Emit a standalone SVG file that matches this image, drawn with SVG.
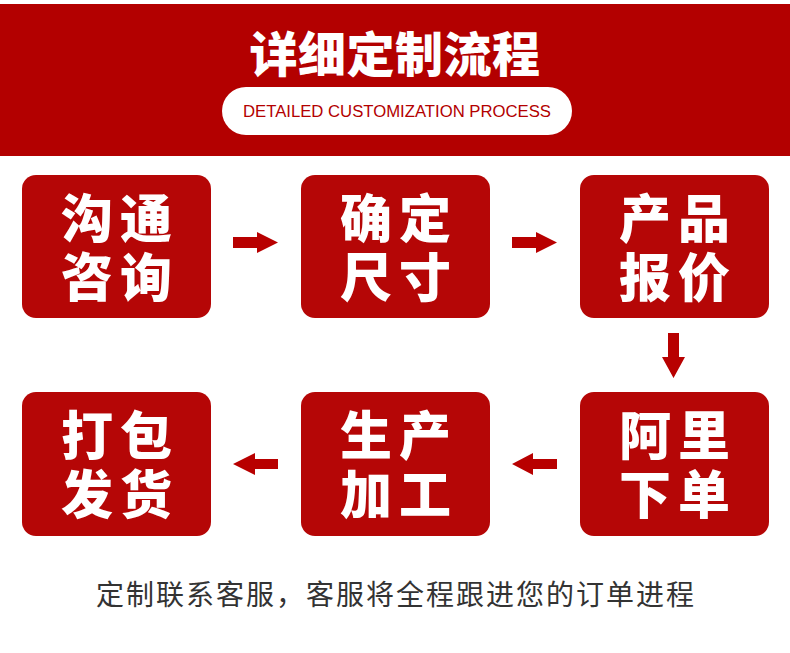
<svg xmlns="http://www.w3.org/2000/svg" width="790" height="653" viewBox="0 0 790 653">
<style>
.node{fill:#b50606}
.nt{font-family:"Noto Sans CJK SC","Noto Sans",sans-serif;font-weight:900;font-size:52px;fill:#fff;text-anchor:middle}
.arrow{fill:#b80000}
</style>
<rect x="0" y="0" width="790" height="653" fill="#fff"/>
<g id="header">
<rect x="0" y="4" width="790" height="152" fill="#b30000"/>
<text x="395" y="72" font-family="'Noto Sans CJK SC',sans-serif" font-weight="900" font-size="48" fill="#fff" text-anchor="middle" letter-spacing="0.5">详细定制流程</text>
<rect x="222" y="87" width="350" height="48" rx="24" fill="#fff"/>
<text x="397" y="117" font-family="'Liberation Sans',sans-serif" font-size="16" fill="#b30000" text-anchor="middle" textLength="308" lengthAdjust="spacingAndGlyphs">DETAILED CUSTOMIZATION PROCESS</text>
</g>
<g id="n1"><rect class="node" x="22" y="175" width="189" height="143" rx="14"/><text class="nt" x="87 146" y="238">沟通</text><text class="nt" x="87 146" y="297">咨询</text></g>
<g id="n2"><rect class="node" x="301" y="175" width="189" height="143" rx="14"/><text class="nt" x="366 425" y="238">确定</text><text class="nt" x="366 425" y="297">尺寸</text></g>
<g id="n3"><rect class="node" x="580" y="175" width="189" height="143" rx="14"/><text class="nt" x="645 704" y="238">产品</text><text class="nt" x="645 704" y="297">报价</text></g>
<g id="n4"><rect class="node" x="580" y="392" width="189" height="144" rx="14"/><text class="nt" x="645 704" y="455">阿里</text><text class="nt" x="645 704" y="514">下单</text></g>
<g id="n5"><rect class="node" x="301" y="392" width="189" height="144" rx="14"/><text class="nt" x="366 425" y="455">生产</text><text class="nt" x="366 425" y="514">加工</text></g>
<g id="n6"><rect class="node" x="22" y="392" width="189" height="144" rx="14"/><text class="nt" x="87 146" y="455">打包</text><text class="nt" x="87 146" y="514">发货</text></g>
<g id="connectors">
<polygon class="arrow" points="233,237 257,237 257,232 278,242.5 257,253 257,248 233,248"/>
<polygon class="arrow" points="512,237 536,237 536,232 557,242.5 536,253 536,248 512,248"/>
<polygon class="arrow" points="668,333 679,333 679,357 685,357 673.5,378 662,357 668,357"/>
<polygon class="arrow" points="557,459 533,459 533,453 512,464 533,475 533,469 557,469"/>
<polygon class="arrow" points="278,459 255,459 255,453 233,464 255,475 255,469 278,469"/>
</g>
<text x="396" y="605" font-family="'Noto Sans CJK SC',sans-serif" font-size="28" fill="#333" text-anchor="middle" letter-spacing="2">定制联系客服，客服将全程跟进您的订单进程</text>
</svg>
